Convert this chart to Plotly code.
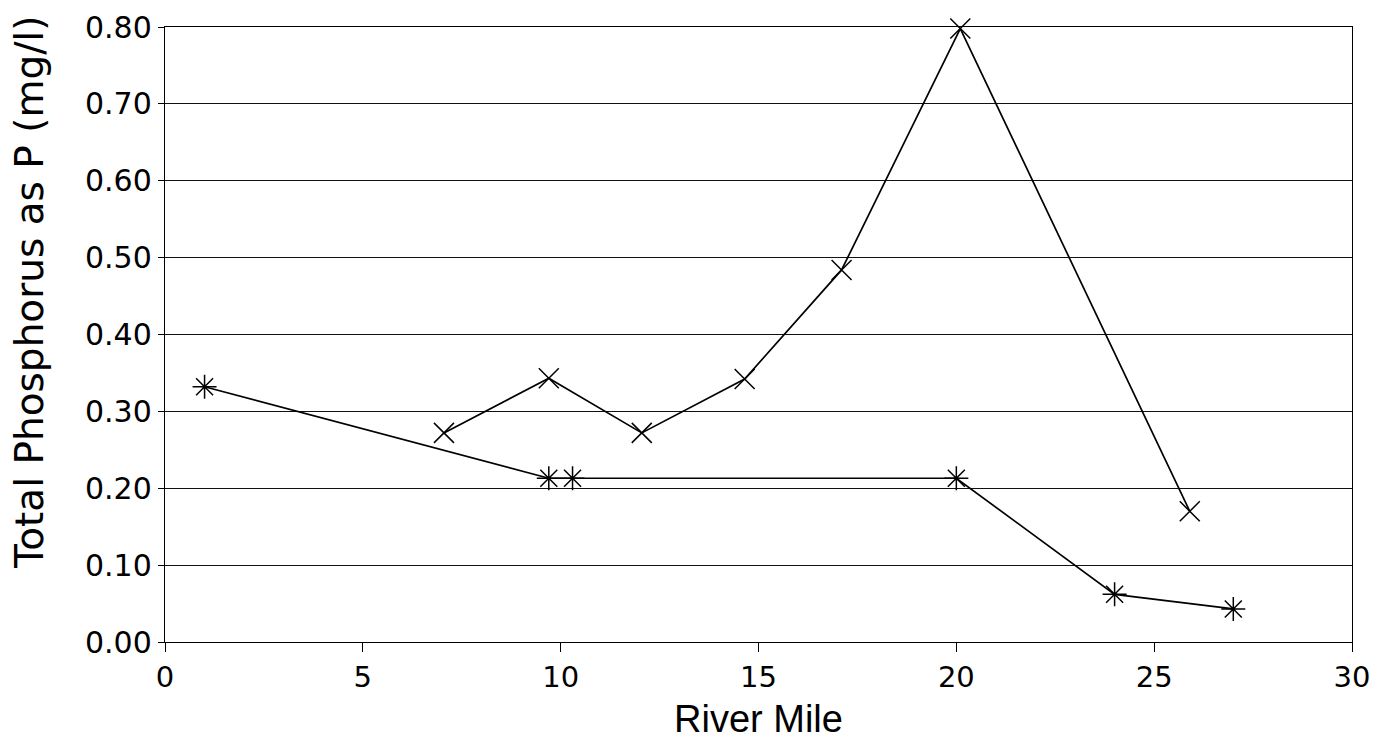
import plotly.graph_objects as go

# Series A (asterisk markers)
mile_a = [1.0, 9.7, 10.3, 20.0, 24.0, 27.0]
tp_a = [0.332, 0.213, 0.213, 0.213, 0.062, 0.043]

# Series B (x markers)
mile_b = [7.05, 9.7, 12.05, 14.65, 17.1, 20.1, 25.9]
tp_b = [0.272, 0.343, 0.272, 0.342, 0.484, 0.798, 0.170]

x_ticks = [0, 5, 10, 15, 20, 25, 30]
y_ticks = [0.0, 0.1, 0.2, 0.3, 0.4, 0.5, 0.6, 0.7, 0.8]
y_ticklabels = ["0.00", "0.10", "0.20", "0.30", "0.40", "0.50", "0.60", "0.70", "0.80"]

fig = go.Figure()
fig.add_trace(go.Scatter(
    x=mile_a, y=tp_a, mode="lines+markers",
    line=dict(color="black", width=1.7),
    marker=dict(symbol="asterisk-open", size=20, color="black",
                line=dict(color="black", width=1.5)),
    showlegend=False, cliponaxis=False))
fig.add_trace(go.Scatter(
    x=mile_b, y=tp_b, mode="lines+markers",
    line=dict(color="black", width=1.7),
    marker=dict(symbol="x-thin-open", size=20, color="black",
                line=dict(color="black", width=1.5)),
    showlegend=False, cliponaxis=False))

ytick_font = dict(family="DejaVu Sans", size=30, color="black")
xtick_font = dict(family="DejaVu Sans", size=29, color="black")

fig.update_layout(
    width=1382, height=746,
    margin=dict(l=165, r=30, t=27, b=104),
    plot_bgcolor="white", paper_bgcolor="white",
    xaxis=dict(
        range=[0, 30], tickvals=x_ticks, ticktext=[str(v) for v in x_ticks],
        ticks="outside", ticklen=9, tickwidth=1.2, tickcolor="black",
        showline=True, linecolor="black", linewidth=1.4, mirror=True,
        showgrid=False, zeroline=False, tickfont=xtick_font, automargin=False,
        title=dict(text="River Mile",
                   font=dict(family="Liberation Sans", size=38, color="black"),
                   standoff=12),
    ),
    yaxis=dict(
        range=[0, 0.80], tickvals=y_ticks, ticktext=y_ticklabels,
        ticks="outside", ticklen=6, tickwidth=1.2, tickcolor="black",
        showline=True, linecolor="black", linewidth=1.4, mirror=True,
        showgrid=True, gridcolor="#111111", gridwidth=1.2,
        zeroline=False, tickfont=ytick_font, automargin=False,
    ),
    annotations=[dict(
        text="Total Phosphorus as P (mg/l)", textangle=-90,
        xref="paper", yref="paper", x=-0.1137, y=0.5675,
        xanchor="center", yanchor="middle", showarrow=False,
        font=dict(family="DejaVu Sans", size=39, color="black"))],
)

fig.write_html("out.html")
